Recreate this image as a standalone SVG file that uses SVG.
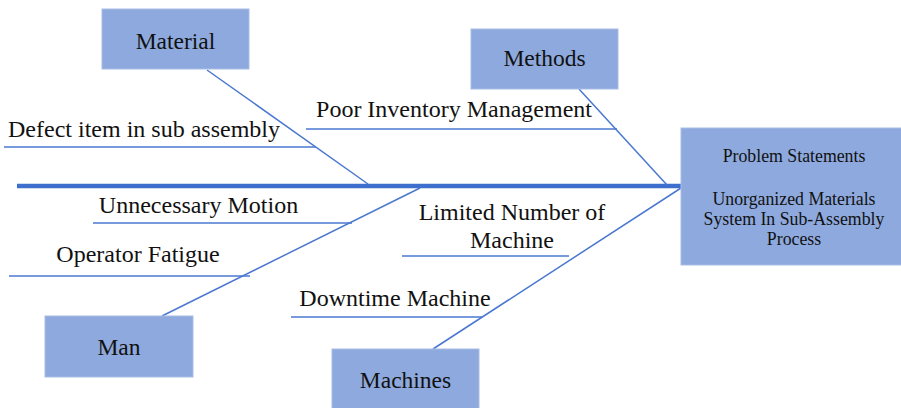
<svg xmlns="http://www.w3.org/2000/svg" width="901" height="408" viewBox="0 0 901 408">
<style>
.box{fill:#8EA9DE;stroke:#A9BDE6;stroke-width:1}
.lbl{font-family:"Liberation Serif","Times New Roman",serif;font-size:23.5px;fill:#111;text-anchor:middle}
.cause{font-family:"Liberation Serif","Times New Roman",serif;font-size:24px;fill:#111;text-anchor:middle}
.ps{font-family:"Liberation Serif","Times New Roman",serif;font-size:17.8px;fill:#111;text-anchor:middle}
.bone{stroke:#4A78D0;stroke-width:1.5;fill:none}
.spine{stroke:#3F6FCC;stroke-width:4.5;fill:none}
</style>
<rect width="901" height="408" fill="#fff"/>
<g id="connectors">
<line class="spine" x1="17" y1="186" x2="682" y2="186"/>
<line class="bone" x1="207" y1="70" x2="368" y2="184"/>
<line class="bone" x1="579" y1="89" x2="667" y2="185"/>
<line class="bone" x1="420" y1="188" x2="162" y2="316"/>
<line class="bone" x1="681" y1="188" x2="433" y2="349"/>
<line class="bone" x1="4" y1="147" x2="316" y2="147"/>
<line class="bone" x1="306" y1="129" x2="617" y2="129"/>
<line class="bone" x1="93" y1="223" x2="352" y2="223"/>
<line class="bone" x1="9" y1="276" x2="250" y2="276"/>
<line class="bone" x1="402" y1="256" x2="569" y2="256"/>
<line class="bone" x1="291" y1="317" x2="482" y2="317"/>
</g>
<g id="material"><rect class="box" x="102" y="9" width="147" height="60"/><text class="lbl" x="175.5" y="49">Material</text></g>
<g id="methods"><rect class="box" x="471" y="29" width="147" height="60"/><text class="lbl" x="544.5" y="66">Methods</text></g>
<g id="man"><rect class="box" x="45" y="316" width="148" height="61"/><text class="lbl" x="119" y="355">Man</text></g>
<g id="machines"><rect class="box" x="332" y="349" width="147" height="62"/><text class="lbl" x="405.5" y="388">Machines</text></g>
<g id="problem"><rect class="box" x="681" y="128" width="222" height="137"/>
<text class="ps" x="794" y="162">Problem Statements</text>
<text class="ps" x="794" y="205">Unorganized Materials</text>
<text class="ps" x="794" y="225">System In Sub-Assembly</text>
<text class="ps" x="794" y="245">Process</text></g>
<g id="cause-defect"><text class="cause" x="144" y="137">Defect item in sub assembly</text></g>
<g id="cause-inventory"><text class="cause" x="454" y="117">Poor Inventory Management</text></g>
<g id="cause-motion"><text class="cause" x="198.5" y="213">Unnecessary Motion</text></g>
<g id="cause-fatigue"><text class="cause" x="138" y="262">Operator Fatigue</text></g>
<g id="cause-limited"><text class="cause" x="512" y="220">Limited Number of</text><text class="cause" x="512" y="248">Machine</text></g>
<g id="cause-downtime"><text class="cause" x="395" y="306">Downtime Machine</text></g>
</svg>
